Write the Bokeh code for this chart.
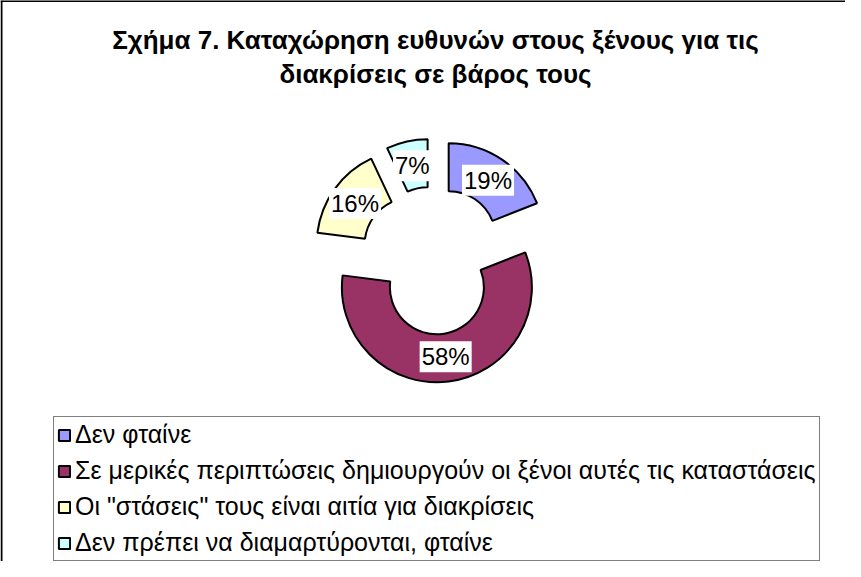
import numpy as np
from bokeh.plotting import figure
from bokeh.models import Range1d, ColumnDataSource, Label, Span, Legend, LegendItem
from bokeh.embed import file_html
from bokeh.resources import INLINE

# ---- data ----
title_lines = ["Σχήμα 7. Καταχώρηση ευθυνών στους ξένους για τις",
               "διακρίσεις σε βάρος τους"]
categories = ["Δεν φταίνε",
              "Σε μερικές περιπτώσεις δημιουργούν οι ξένοι αυτές τις καταστάσεις",
              "Οι \"στάσεις\" τους είναι αιτία για διακρίσεις",
              "Δεν πρέπει να διαμαρτύρονται, φταίνε"]
values = [19, 58, 16, 7]
colors = ["#9999FF", "#993366", "#FFFFCC", "#CCFFFF"]

# ---- layout (page pixel coordinates, y measured downward -> data y = -page_y) ----
W, H, M = 845, 561, 8
FONT = "Liberation Sans"
p = figure(width=W, height=H, x_range=Range1d(M, M + W), y_range=Range1d(-(M + H), -M),
           output_backend="svg", toolbar_location=None,
           x_axis_type=None, y_axis_type=None, min_border=0)
p.grid.visible = False
p.outline_line_color = None
p.background_fill_color = "white"
p.border_fill_color = "white"

# chart-area frame (top and left edges visible)
p.add_layout(Span(location=-8.5, dimension="width", line_color="black", line_width=2))
p.add_layout(Span(location=9, dimension="height", line_color="black", line_width=2))

# ---- exploded donut ----
vals = np.array(values, dtype=float)
frac = vals / vals.sum()
cum = np.concatenate([[0.0], np.cumsum(frac)])
th1 = cum[:-1] * 2 * np.pi          # clockwise from 12 o'clock
th2 = cum[1:] * 2 * np.pi
mid = (th1 + th2) / 2
cx, cy = 441.0, -268.0
explode, R_out, R_in = 27.0, 95.0, 47.0
ux, uy = np.sin(mid), np.cos(mid)
xs = cx + explode * ux
ys = cy + explode * uy
src = ColumnDataSource(dict(x=xs, y=ys, start=np.pi / 2 - th2, end=np.pi / 2 - th1,
                            color=colors, cat=categories))
wr = p.annular_wedge(x="x", y="y", inner_radius=R_in, outer_radius=R_out,
                     start_angle="start", end_angle="end", fill_color="color",
                     line_color="black", line_width=2, source=src)

# percentage labels
lr = 70.0
for i in range(len(values)):
    p.add_layout(Label(x=xs[i] + lr * ux[i], y=ys[i] + lr * uy[i],
                       text=f"{frac[i] * 100:.0f}%", text_align="center",
                       text_baseline="middle", text_font=FONT, text_font_size="24px",
                       text_color="black", background_fill_color="white",
                       background_fill_alpha=1.0, padding=2))

# title
for j, (t, yb) in enumerate(zip(title_lines, [47, 81])):
    p.add_layout(Label(x=443, y=-yb, text=t, text_align="center",
                       text_baseline="alphabetic", text_font=FONT,
                       text_font_size="26px", text_font_style="bold", text_color="black"))

# legend
items = [LegendItem(label=c, renderers=[wr], index=i) for i, c in enumerate(categories)]
leg = Legend(items=items, location=(53, 0), orientation="vertical",
             border_line_color="black", border_line_width=1,
             background_fill_color="white", background_fill_alpha=1.0,
             label_text_font=FONT, label_text_font_size="25px", label_text_color="black",
             glyph_width=14, glyph_height=14, label_standoff=4,
             padding=3, spacing=7, label_height=29, margin=0)
p.add_layout(leg)

open("out.html", "w").write(file_html(p, INLINE))
